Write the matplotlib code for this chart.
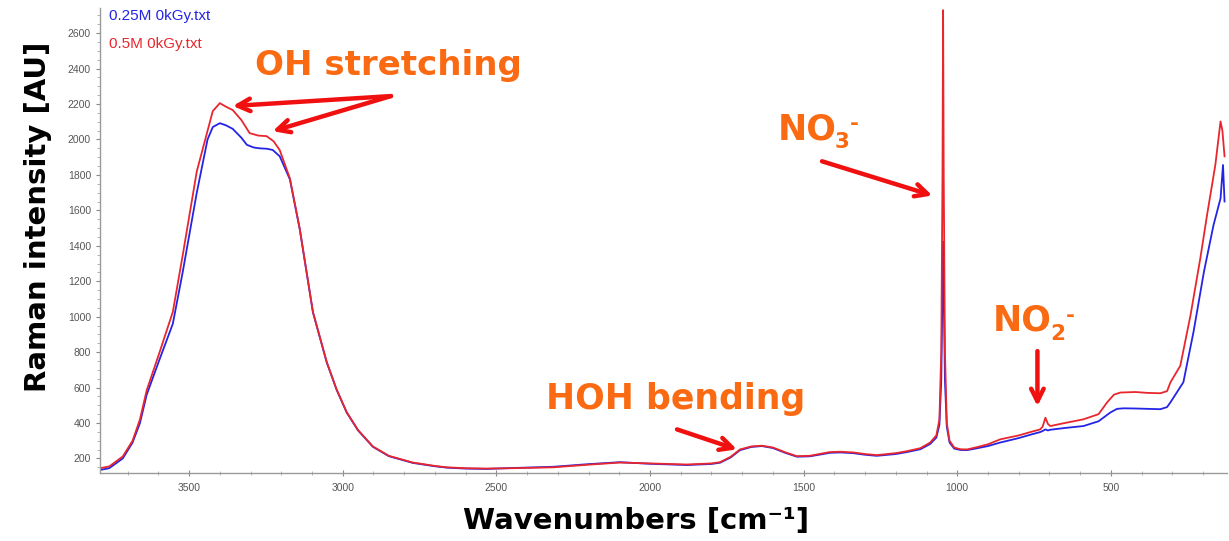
import matplotlib
matplotlib.use("Agg")
import matplotlib.pyplot as plt
from matplotlib.ticker import MultipleLocator

# ---- data ----
wn_red = [3790, 3760, 3716, 3684, 3660, 3638, 3596, 3553, 3521, 3475, 3423, 3400, 3380, 3358,
          3330, 3303, 3275, 3248, 3225, 3205, 3172, 3140, 3097, 3052, 3020, 2987, 2950, 2902,
          2850, 2772, 2700, 2660, 2600, 2532, 2450, 2315, 2200, 2098, 2000, 1880, 1800, 1772,
          1737, 1707, 1670, 1636, 1600, 1560, 1522, 1480, 1440, 1414, 1380, 1339, 1300, 1262,
          1200, 1164, 1120, 1088, 1068, 1058, 1052, 1048, 1046, 1044, 1040, 1034, 1025, 1010,
          990, 968, 940, 900, 860, 800, 760, 730, 722, 713, 705, 697, 650, 589, 540, 512, 490,
          469, 420, 380, 339, 317, 306, 274, 241, 209, 187, 160, 148, 143, 137, 130]
int_red = [145, 155, 211, 300, 420, 585, 800, 1027, 1345, 1820, 2160, 2205, 2185, 2166,
           2110, 2036, 2022, 2019, 1990, 1940, 1781, 1497, 1027, 744, 590, 461, 360, 268,
           215, 177, 158, 150, 145, 143, 145, 150, 165, 177, 172, 166, 172, 179,
           210, 251, 268, 272, 262, 235, 213, 215, 228, 236, 238, 234, 225, 219,
           230, 241, 258, 290, 330, 420, 800, 1800, 2730, 1800, 800, 400, 300, 262,
           252, 251, 262, 280, 308, 330, 350, 364, 380, 430, 395, 383, 400, 421, 450, 517, 560,
           572, 575, 570, 568, 580, 630, 723, 1006, 1328, 1573, 1856, 2030, 2102, 2050, 1905]

wn_blue = [3790, 3760, 3716, 3684, 3660, 3638, 3596, 3553, 3521, 3475, 3440, 3423, 3400, 3380,
           3358, 3330, 3312, 3290, 3270, 3248, 3228, 3205, 3172, 3140, 3097, 3052, 3020, 2987,
           2950, 2902, 2850, 2772, 2700, 2660, 2600, 2532, 2450, 2315, 2200, 2098, 2000, 1880,
           1800, 1772, 1737, 1707, 1670, 1636, 1600, 1560, 1522, 1480, 1440, 1414, 1380, 1339,
           1300, 1262, 1200, 1164, 1120, 1088, 1068, 1058, 1052, 1048, 1046, 1044, 1040, 1034,
           1025, 1010, 990, 968, 940, 900, 860, 800, 760, 730, 722, 713, 705, 697, 650, 589,
           540, 502, 480, 459, 420, 380, 339, 317, 306, 264, 231, 197, 166, 143, 135, 130]
int_blue = [135, 145, 200, 290, 400, 560, 760, 960, 1250, 1700, 2000, 2070, 2092, 2080,
            2060, 2010, 1970, 1955, 1950, 1948, 1941, 1905, 1775, 1495, 1025, 742, 588, 459,
            358, 266, 213, 175, 156, 148, 143, 141, 146, 153, 168, 179, 170, 163,
            169, 176, 206, 247, 265, 270, 259, 232, 210, 212, 224, 232, 234, 230,
            221, 215, 225, 236, 252, 282, 318, 390, 640, 1150, 1424, 1150, 640, 380,
            290, 256, 248, 247, 256, 270, 290, 315, 335, 349, 355, 364, 358, 362, 372, 383,
            410, 459, 480, 483, 482, 480, 478, 490, 517, 630, 914, 1254, 1516, 1668, 1856, 1650]

legend_labels = ["0.25M 0kGy.txt", "0.5M 0kGy.txt"]
x_ticks = [3500, 3000, 2500, 2000, 1500, 1000, 500]
y_ticks = [200, 400, 600, 800, 1000, 1200, 1400, 1600, 1800, 2000, 2200, 2400, 2600]

BLUE = "#2424E6"
RED = "#E8262E"
ORANGE = "#FA6A12"
ARROW = "#F01010"

plt.rcParams["font.family"] = ["Liberation Sans", "DejaVu Sans"]

fig = plt.figure(figsize=(12.29, 5.41), dpi=100)
ax = fig.add_axes([100 / 1229, 68 / 541, 1127 / 1229, 465 / 541])

lb, = ax.plot(wn_blue, int_blue, color=BLUE, lw=1.3, label=legend_labels[0])
lr, = ax.plot(wn_red, int_red, color=RED, lw=1.3, label=legend_labels[1])

ax.set_xlim(3790, 122)
ax.set_ylim(118, 2742)
ax.set_xticks(x_ticks)
ax.set_yticks(y_ticks)
ax.xaxis.set_minor_locator(MultipleLocator(100))
ax.yaxis.set_minor_locator(MultipleLocator(50))
ax.tick_params(axis="both", which="major", labelsize=7.5, labelcolor="#555555",
               color="#888888", length=3, width=0.8)
ax.tick_params(axis="x", which="major", direction="inout", length=5, pad=5)
ax.tick_params(axis="both", which="minor", color="#aaaaaa", length=2, width=0.6)
ax.tick_params(axis="x", which="minor", direction="inout", length=3)
for s in ["top", "right"]:
    ax.spines[s].set_visible(False)
for s in ["left", "bottom"]:
    ax.spines[s].set_color("#9a9a9a")
    ax.spines[s].set_linewidth(1.0)

leg = ax.legend(handles=[lb, lr], loc="upper left", bbox_to_anchor=(0.0, 1.018),
                frameon=False, handlelength=0, handletextpad=0, labelspacing=0.95,
                fontsize=11, labelcolor="linecolor", borderaxespad=0.2)
for h in leg.legend_handles:
    h.set_visible(False)

fig.text(38 / 1229, 1 - 217 / 541, "Raman intensity [AU]", rotation=90,
         ha="center", va="center", fontsize=21, fontweight="bold", family="DejaVu Sans")
fig.text(636 / 1229, 1 - 521 / 541, "Wavenumbers [cm\u207b\u00b9]",
         ha="center", va="center", fontsize=21, fontweight="bold", family="DejaVu Sans")

akw = dict(arrowstyle="->,head_length=0.9,head_width=0.45", color=ARROW, lw=3.2,
           shrinkA=0, shrinkB=0)
tkw = dict(color=ORANGE, fontweight="bold", family="DejaVu Sans",
           ha="center", va="center")


def ion_label(x, y, sub):
    """'NO' with a subscript digit and a superscript hyphen, anchored at baseline-left."""
    base = dict(color=ORANGE, fontweight="bold", family="DejaVu Sans",
                ha="left", va="baseline", textcoords="offset points")
    ax.annotate("NO", xy=(x, y), xytext=(0, 0), fontsize=25, **base)
    ax.annotate(sub, xy=(x, y), xytext=(41, -6.5), fontsize=15.5, **base)
    ax.annotate("-", xy=(x, y), xytext=(52, 6.5), fontsize=15.5, **base)


# OH stretching
ax.text(2850, 2415, "OH stretching", fontsize=24.5, **tkw)
ax.annotate("", xy=(3358, 2189), xytext=(2843, 2245), arrowprops=akw)
ax.annotate("", xy=(3228, 2047), xytext=(2843, 2245), arrowprops=akw)
# NO3-
ion_label(1583, 2002, "3")
ax.annotate("", xy=(1081, 1684), xytext=(1440, 1877), arrowprops=akw)
# HOH bending
ax.text(1918, 534, "HOH bending", fontsize=25, **tkw)
ax.annotate("", xy=(1717, 251), xytext=(1912, 364), arrowprops=akw)
# NO2-
ion_label(883, 920, "2")
ax.annotate("", xy=(739, 495), xytext=(739, 806), arrowprops=akw)

fig.savefig("out.png", dpi=100)
